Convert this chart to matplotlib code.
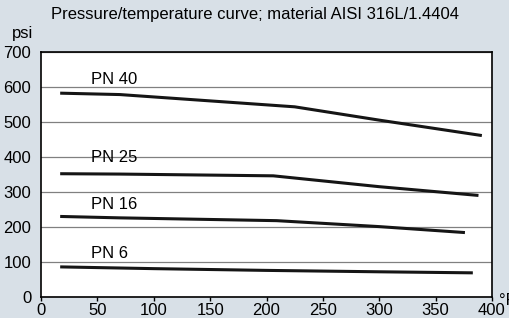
import matplotlib.pyplot as plt

plt.rcParams['font.family'] = ['Liberation Sans', 'DejaVu Sans']

# Data (temperature in °F, pressure in psi)
pn40_t = [17, 70, 225, 300, 391]
pn40_p = [582, 578, 543, 505, 461]

pn25_t = [17, 70, 206, 300, 388]
pn25_p = [352, 351, 346, 315, 290]

pn16_t = [17, 70, 209, 300, 376]
pn16_p = [230, 226, 218, 201, 184]

pn6_t = [17, 100, 200, 300, 383]
pn6_p = [86, 81, 76, 72, 69]

series = [
    ("PN 40", pn40_t, pn40_p, 622),
    ("PN 25", pn25_t, pn25_p, 398),
    ("PN 16", pn16_t, pn16_p, 265),
    ("PN 6", pn6_t, pn6_p, 125),
]

bg = '#d8e0e7'
fig = plt.figure(figsize=(5.1, 3.18), dpi=100, facecolor=bg)
ax = fig.add_axes([0.0804, 0.066, 0.8843, 0.771])
ax.set_facecolor('white')

for name, t, p, label_y in series:
    ax.plot(t, p, color='#151515', lw=2.2, solid_capstyle='butt')
    ax.text(44, label_y, name, fontsize=12, ha='left', va='center')

ax.set_xlim(0, 400)
ax.set_ylim(0, 700)
ax.set_xticks(range(0, 401, 50))
ax.set_yticks(range(0, 701, 100))
ax.yaxis.grid(True, color='#808080', lw=0.9)
ax.set_axisbelow(True)
ax.tick_params(axis='x', direction='out', length=3, width=1, labelsize=12, pad=1)
ax.tick_params(axis='y', length=0, labelsize=12, pad=7)
for spine in ax.spines.values():
    spine.set_color('black')
    spine.set_linewidth(1.2)

fig.text(0.5, 0.955, "Pressure/temperature curve; material AISI 316L/1.4404",
         ha='center', va='center', fontsize=12)
fig.text(0.045, 0.895, "psi", ha='center', va='center', fontsize=12)
fig.text(0.979, 0.079, "°F", ha='left', va='top', fontsize=12)

fig.savefig("out.png", dpi=100, facecolor=bg)
